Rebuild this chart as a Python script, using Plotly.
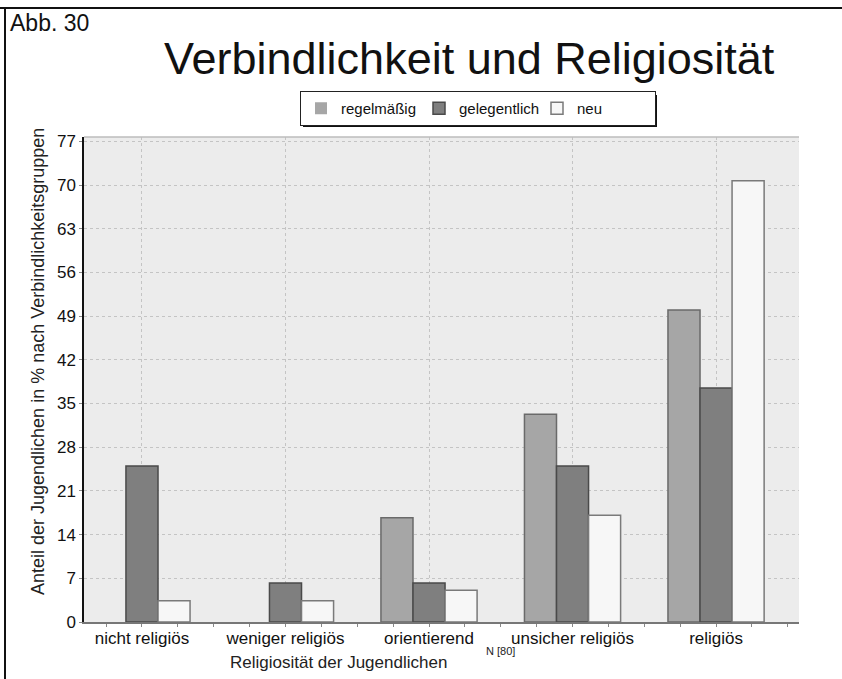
import plotly.graph_objects as go

# Data: share of young people (%) per commitment group, by religiosity
categories = ["nicht religiös", "weniger religiös", "orientierend", "unsicher religiös", "religiös"]
series_names = ["regelmäßig", "gelegentlich", "neu"]
regelmaessig = [0, 0, 16.7, 33.3, 50.0]
gelegentlich = [25.0, 6.25, 6.25, 25.0, 37.5]
neu = [3.4, 3.4, 5.1, 17.1, 70.7]
y_ticks = [0, 7, 14, 21, 28, 35, 42, 49, 56, 63, 70, 77]

W, H = 842, 679
L, R, T, B = 84, 43, 137, 57
PW, PH = W - L - R, H - T - B


def px_x(x):
    return (x - L) / PW


def px_y(y):
    return (H - B - y) / PH


FONT = "Liberation Sans, Arial, sans-serif"
fills = ["#a6a6a6", "#7f7f7f", "#f7f7f7"]
edges = ["#6a6a6a", "#4a4a4a", "#7a7a7a"]

fig = go.Figure()
xpos = list(range(len(categories)))
for name, vals, fc, ec in zip(series_names, [regelmaessig, gelegentlich, neu], fills, edges):
    fig.add_trace(go.Bar(
        x=xpos, y=vals, name=name,
        marker=dict(color=fc, line=dict(color=ec, width=[0 if v == 0 else 1.5 for v in vals])),
    ))

fig.update_layout(
    width=W, height=H,
    margin=dict(l=L, r=R, t=T, b=B),
    paper_bgcolor="white",
    plot_bgcolor="#ececec",
    barmode="group",
    bargap=0.33,
    bargroupgap=0,
    font=dict(family=FONT, color="#111"),
    showlegend=True,
    legend=dict(
        orientation="h",
        x=px_x(300), y=px_y(91), xanchor="left", yanchor="top",
        bgcolor="white", bordercolor="#222", borderwidth=1,
        font=dict(size=15, family=FONT, color="#111"),
        itemwidth=30, tracegroupgap=0, entrywidth=73,
    ),
    xaxis=dict(
        range=[-0.404, 4.578],
        tickvals=xpos, ticktext=categories,
        tickfont=dict(size=17, family=FONT, color="#111"),
        showgrid=True, gridcolor="#c4c4c4", griddash="dot", gridwidth=1,
        showline=True, linecolor="#777", linewidth=1.5,
        ticks="", ticklabelstandoff=0,
        minor=dict(dtick=0.25, tick0=0, ticks="outside", ticklen=3, tickcolor="#888", showgrid=False),
        zeroline=False, fixedrange=True,
    ),
    yaxis=dict(
        range=[0, 77.7],
        tickvals=y_ticks,
        tickfont=dict(size=17, family=FONT, color="#111"),
        showgrid=True, gridcolor="#c4c4c4", griddash="dot", gridwidth=1,
        showline=True, linecolor="#111", linewidth=1.5,
        ticks="outside", ticklen=3, tickcolor="#888",
        zeroline=False, fixedrange=True,
    ),
)

annotations = [
    dict(text="Verbindlichkeit und Religiosität", x=px_x(470), y=px_y(59),
         xanchor="center", yanchor="middle", font=dict(size=45, family=FONT, color="#111")),
    dict(text="Abb. 30", x=px_x(8), y=px_y(23),
         xanchor="left", yanchor="middle", font=dict(size=23, family=FONT, color="#111")),
    dict(text="Anteil der Jugendlichen in % nach Verbindlichkeitsgruppen", x=px_x(38), y=px_y(362),
         xanchor="center", yanchor="middle", textangle=-90, font=dict(size=18, family=FONT, color="#222")),
    dict(text="Religiosität der Jugendlichen", x=px_x(338), y=px_y(662),
         xanchor="center", yanchor="middle", font=dict(size=17, family=FONT, color="#222")),
    dict(text="N [80]", x=px_x(501), y=px_y(651),
         xanchor="center", yanchor="middle", font=dict(size=11, family=FONT, color="#222")),
]
for a in annotations:
    a.update(xref="paper", yref="paper", showarrow=False)
fig.update_layout(annotations=annotations)

shapes = [
    # figure frame: top and left rules
    dict(type="line", x0=px_x(0), x1=px_x(W), y0=px_y(8), y1=px_y(8), line=dict(color="#111", width=2)),
    dict(type="line", x0=px_x(5), x1=px_x(5), y0=px_y(8), y1=px_y(H), line=dict(color="#111", width=2)),
    # plot area top edge
    dict(type="line", x0=0, x1=1, y0=1, y1=1, line=dict(color="#bdbdbd", width=1.5)),
    # drop shadow of the legend box
    dict(type="line", x0=px_x(656), x1=px_x(656), y0=px_y(95), y1=px_y(126), line=dict(color="#111", width=2)),
    dict(type="line", x0=px_x(303), x1=px_x(657), y0=px_y(126), y1=px_y(126), line=dict(color="#111", width=2)),
]
for s in shapes:
    s.update(xref="paper", yref="paper", layer="above")
fig.update_layout(shapes=shapes)

fig.write_html("out.html")
